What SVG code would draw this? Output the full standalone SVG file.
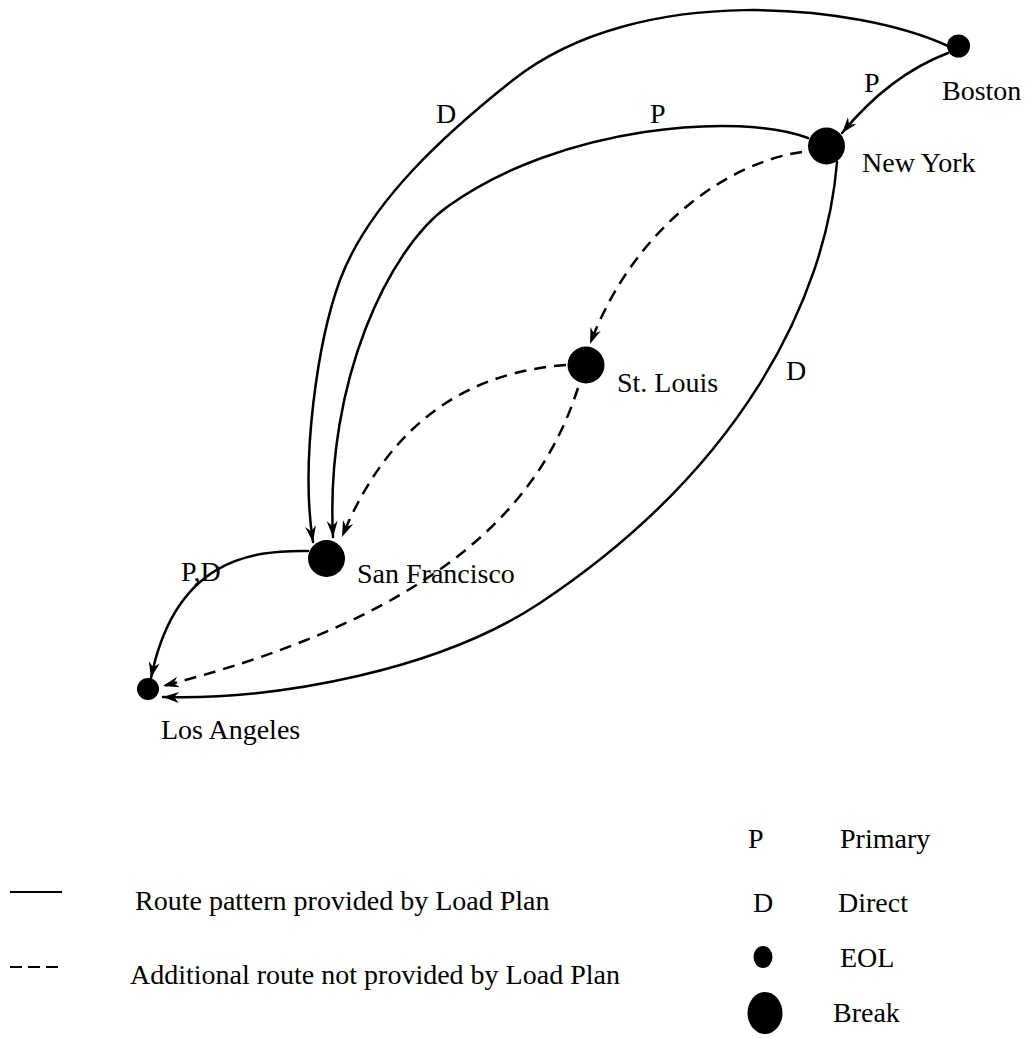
<svg xmlns="http://www.w3.org/2000/svg" width="1032" height="1038" viewBox="0 0 1032 1038">
<style>
  text { font-family: "Liberation Serif", "Times New Roman", serif; fill: #000; }
  .lbl { font-size: 28px; }
  .lg { font-size: 28px; }
  .edge { fill: none; stroke: #000; stroke-width: 2.5; stroke-linecap: round; }
  .dash { stroke-dasharray: 12 8; stroke-linecap: butt; }
  .dot { fill: #000; }
</style>
<defs>
  <marker id="arr" viewBox="-17 -7 19 14" refX="0" refY="0" markerWidth="19" markerHeight="14" markerUnits="userSpaceOnUse" orient="auto">
    <path d="M-16,-5.5 L0,0 L-16,5.5 L-11,0 Z" fill="#000"/>
  </marker>
</defs>
<rect width="1032" height="1038" fill="#fff"/>

<g id="connectors">
  <!-- Boston -> San Francisco (D) -->
  <path class="edge" d="M948 46 C860 5, 640 -20, 513 80 C450 130, 370 200, 340 280 C318 340, 300 460, 313 542" marker-end="url(#arr)"/>
  <!-- New York -> San Francisco (P) -->
  <path class="edge" d="M808 138 C740 112, 560 125, 447 207 C390 248, 325 380, 333 537" marker-end="url(#arr)"/>
  <!-- Boston -> New York (P) -->
  <path class="edge" d="M948 53 Q890 75 842 133" marker-end="url(#arr)"/>
  <!-- New York -> Los Angeles (D) -->
  <path class="edge" d="M837 162 C826 300, 740 470, 540 603 C440 669.5, 280 700, 163 697" marker-end="url(#arr)"/>
  <!-- San Francisco -> Los Angeles (P,D) -->
  <path class="edge" d="M308 551 C250 550, 175 560, 151 678" marker-end="url(#arr)"/>
  <!-- New York -> St. Louis (dashed) -->
  <path class="edge dash" d="M802 152 C730 162, 635 225, 590 344" marker-end="url(#arr)"/>
  <!-- St. Louis -> San Francisco (dashed) -->
  <path class="edge dash" d="M566 365 C470 372, 390 420, 342 537" marker-end="url(#arr)"/>
  <!-- St. Louis -> Los Angeles (dashed) -->
  <path class="edge dash" d="M578 388 C545 490, 460 610, 163 686" marker-end="url(#arr)"/>

  <text class="lbl" x="436" y="123">D</text>
  <text class="lbl" x="650" y="123">P</text>
  <text class="lbl" x="864" y="92">P</text>
  <text class="lbl" x="786" y="380">D</text>
  <text class="lbl" x="181" y="581">P,D</text>
</g>

<g id="node-boston">
  <circle class="dot" cx="958.5" cy="46" r="11.5"/>
  <text class="lbl" x="942" y="100">Boston</text>
</g>
<g id="node-newyork">
  <circle class="dot" cx="826.5" cy="146" r="18.5"/>
  <text class="lbl" x="862" y="172">New York</text>
</g>
<g id="node-stlouis">
  <circle class="dot" cx="586" cy="365" r="18.5"/>
  <text class="lbl" x="617" y="392">St. Louis</text>
</g>
<g id="node-sanfrancisco">
  <circle class="dot" cx="326.5" cy="558.5" r="18.5"/>
  <text class="lbl" x="357" y="583">San Francisco</text>
</g>
<g id="node-losangeles">
  <circle class="dot" cx="148" cy="689" r="11"/>
  <text class="lbl" x="161" y="739">Los Angeles</text>
</g>

<g id="legend">
  <line x1="10" y1="892" x2="62" y2="892" stroke="#000" stroke-width="2.2"/>
  <text class="lg" x="135" y="910">Route pattern provided by Load Plan</text>
  <line x1="10" y1="967" x2="62" y2="967" stroke="#000" stroke-width="2.2" stroke-dasharray="12 6"/>
  <text class="lg" x="130" y="984">Additional route not provided by Load Plan</text>

  <text class="lg" x="748" y="848">P</text>
  <text class="lg" x="840" y="848">Primary</text>
  <text class="lg" x="753" y="912">D</text>
  <text class="lg" x="838" y="912">Direct</text>
  <ellipse class="dot" cx="763" cy="957" rx="9.5" ry="11"/>
  <text class="lg" x="840" y="967">EOL</text>
  <ellipse class="dot" cx="765" cy="1013" rx="17.5" ry="21"/>
  <text class="lg" x="833" y="1022">Break</text>
</g>
</svg>
